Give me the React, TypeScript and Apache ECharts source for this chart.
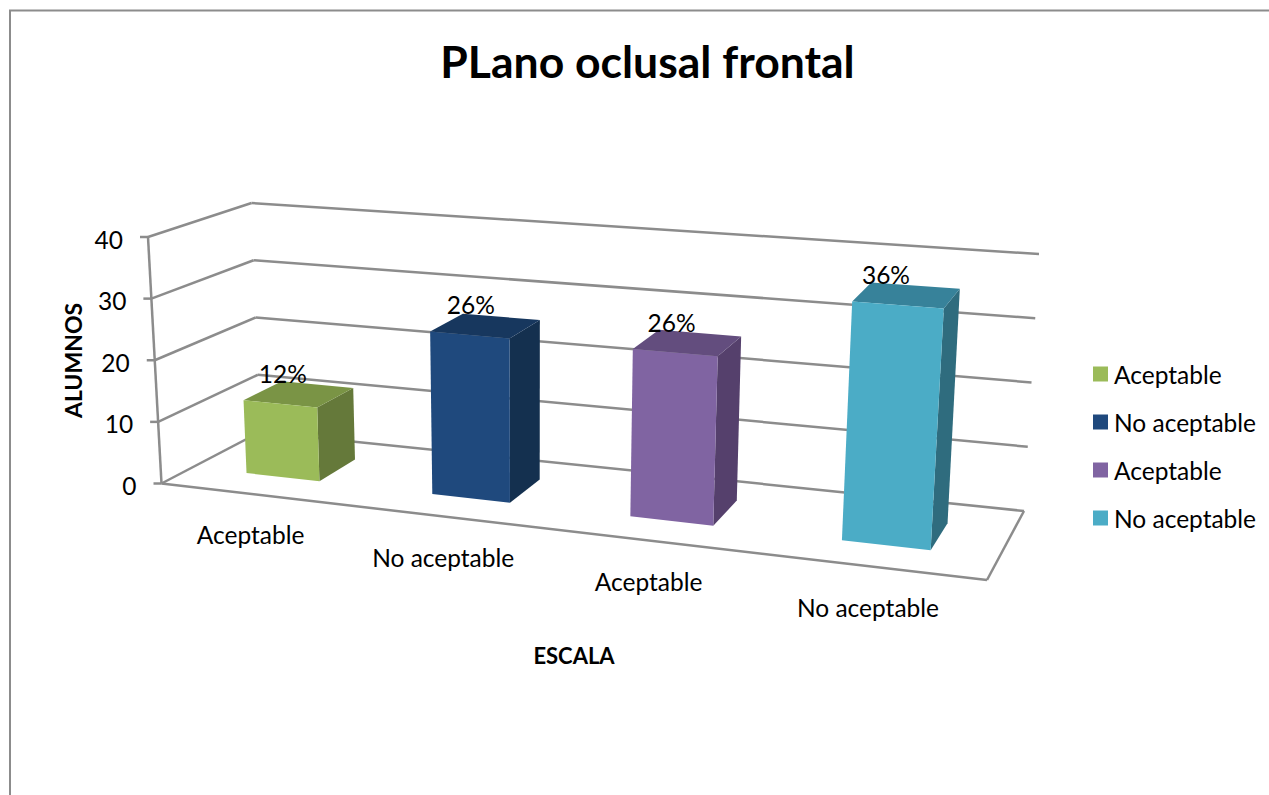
import React, { useEffect, useRef } from "react";
import * as echarts from "echarts";

const TITLE = "PLano oclusal frontal";
const X_NAME = "ESCALA";
const Y_NAME = "ALUMNOS";
const categories = ["Aceptable", "No aceptable", "Aceptable", "No aceptable"];
const seriesNames = ["Aceptable", "No aceptable", "Aceptable ", "No aceptable "];
const values = [12, 26, 26, 36];
const percentLabels = ["12%", "26%", "26%", "36%"];
const yTicks = [0, 10, 20, 30, 40];

const frontColors = ["#9BBB59", "#1F497D", "#8064A2", "#4BACC6"];
const topColors = ["#7A9445", "#17375E", "#634D7E", "#37829A"];
const sideColors = ["#65793A", "#14304F", "#55406C", "#2F6C7E"];

const FONT = "Lato";
const GRID_COLOR = "#8C8C8C";
const LABEL_SIZE = 24.5;

// Perspective box: corners of the plot cube on the page [front/back][bottom/top][left/right]
const BOX = {
  fbl: [161.5, 483.5], fbr: [987, 580], ftl: [148, 237], ftr: [1005, 302],
  bbl: [260, 432], bbr: [1024, 511], btl: [251.5, 203], btr: [1039, 254],
};
const WARP = 1.14;
const warp = (t: number) => t / (t + WARP * (1 - t));
const lerp = (a: number[], b: number[], k: number) => [a[0] + (b[0] - a[0]) * k, a[1] + (b[1] - a[1]) * k];

// t: horizontal fraction of the x axis, f: fraction of the y axis, z: depth (0 front, 1 back)
function project(t: number, f: number, z: number) {
  const s = warp(t);
  const fb = lerp(BOX.fbl, BOX.fbr, s);
  const ft = lerp(BOX.ftl, BOX.ftr, s);
  const bb = lerp(BOX.bbl, BOX.bbr, s);
  const bt = lerp(BOX.btl, BOX.btr, s);
  return lerp(lerp(fb, ft, f), lerp(bb, bt, f), z);
}

function scales(api: any) {
  const band = api.size([1, 0])[0];
  const left = api.coord([0, 0])[0] - band / 2;
  const y0 = api.coord([0, 0])[1];
  const yMax = api.coord([0, yTicks[yTicks.length - 1]])[1];
  return {
    tx: (cat: number, offset: number) => (api.coord([cat, 0])[0] - band / 2 + band * offset - left) / (band * categories.length),
    fy: (v: number) => (y0 - api.coord([0, v])[1]) / (y0 - yMax),
  };
}

const lineEl = (a: number[], b: number[], width = 2.5) => ({
  type: "line",
  shape: { x1: a[0], y1: a[1], x2: b[0], y2: b[1] },
  style: { stroke: GRID_COLOR, lineWidth: width, fill: "none" },
});

const textEl = (x: number, y: number, text: string, align: string, size = LABEL_SIZE) => ({
  type: "text",
  x,
  y,
  style: { text, fontFamily: FONT, fontSize: size, fill: "#000", align, verticalAlign: "middle" },
});

function renderFrame(_: any, api: any) {
  const sc = scales(api);
  const v = api.value(1);
  const f = sc.fy(v);
  const children: any[] = [];
  const fl = project(0, f, 0);
  const bl = project(0, f, 1);
  const br = project(1, f, 1);
  children.push(lineEl(fl, bl), lineEl(bl, br));
  children.push(lineEl([fl[0] - 8, fl[1]], fl));
  children.push(textEl(fl[0] - 25, fl[1] + 2, String(v), "right"));
  if (v === 0) {
    children.push(lineEl(project(0, 0, 0), project(1, 0, 0)));
    children.push(lineEl(project(1, 0, 0), project(1, 0, 1)));
    children.push(lineEl(project(0, 0, 0), project(0, 1, 0)));
  }
  return { type: "group", children };
}

function poly(points: number[][], fill: string) {
  return { type: "polygon", shape: { points }, style: { fill, stroke: "none" } };
}

const makeBar = (idx: number) => (_: any, api: any) => {
  const sc = scales(api);
  const cat = api.value(0);
  const f = sc.fy(api.value(1));
  const t0 = sc.tx(cat, 0.3);
  const t1 = sc.tx(cat, 0.7);
  const tm = sc.tx(cat, 0.5);
  const z0 = 0.32;
  const z1 = 0.72;
  const P = (t: number, ff: number, z: number) => project(t, ff, z);
  const labelBase = P(tm, 0, z0);
  const labelTop = P(tm, f, z0);
  const catAnchor = project(sc.tx(cat, 0.485), 0, 0);
  return {
    type: "group",
    children: [
      poly([P(t1, 0, z0), P(t1, 0, z1), P(t1, f, z1), P(t1, f, z0)], sideColors[idx]),
      poly([P(t0, f, z0), P(t1, f, z0), P(t1, f, z1), P(t0, f, z1)], topColors[idx]),
      poly([P(t0, 0, z0), P(t1, 0, z0), P(t1, f, z0), P(t0, f, z0)], frontColors[idx]),
      textEl(labelBase[0], labelTop[1] - 30, percentLabels[idx], "center"),
      textEl(catAnchor[0], catAnchor[1] + 41, categories[idx], "center"),
    ],
  };
};

export default function App() {
  const ref = useRef<HTMLDivElement>(null);
  useEffect(() => {
    document.body.style.margin = "0";
    const chart = echarts.init(ref.current!, undefined, { renderer: "svg" });
    chart.setOption({
      animation: false,
      backgroundColor: "#fff",
      title: {
        text: TITLE,
        left: 642.5,
        top: 33,
        textAlign: "center",
        textStyle: { fontFamily: FONT, fontSize: 44.5, fontWeight: "bold", color: "#000" },
      },
      graphic: [
        {
          type: "polyline",
          shape: { points: [[10, 795], [10, 10.5], [1269, 10.5]] },
          style: { stroke: GRID_COLOR, lineWidth: 2, fill: "none" },
        },
      ],
      legend: {
        orient: "vertical",
        left: 1088,
        top: 356.5,
        itemWidth: 15,
        itemHeight: 15,
        itemGap: 23,
        icon: "rect",
        selectedMode: false,
        data: seriesNames,
        formatter: (n: string) => n.trim(),
        textStyle: { fontFamily: FONT, fontSize: LABEL_SIZE, color: "#000", padding: [0, 0, 0, 1] },
      },
      grid: { left: 161, top: 237, width: 826, height: 247, containLabel: false },
      xAxis: {
        type: "category",
        data: categories,
        name: X_NAME,
        nameLocation: "middle",
        nameGap: 160,
        nameTextStyle: { fontFamily: FONT, fontSize: 22, fontWeight: "bold", color: "#000" },
        axisLine: { show: false },
        axisTick: { show: false },
        axisLabel: { show: false },
      },
      yAxis: {
        type: "value",
        min: 0,
        max: 40,
        interval: 10,
        name: Y_NAME,
        nameLocation: "middle",
        nameGap: 77,
        nameRotate: 90,
        nameTextStyle: { fontFamily: FONT, fontSize: 23, fontWeight: "bold", color: "#000" },
        axisLine: { show: false },
        axisTick: { show: false },
        axisLabel: { show: false },
        splitLine: { show: false },
      },
      series: [
        {
          type: "custom",
          name: "frame",
          silent: true,
          clip: false,
          encode: { x: 0, y: 1 },
          data: yTicks.map((v) => [0, v]),
          renderItem: renderFrame,
        },
        ...values.map((v, i) => ({
          type: "custom",
          name: seriesNames[i],
          clip: false,
          encode: { x: 0, y: 1 },
          itemStyle: { color: frontColors[i] },
          data: [[i, v]],
          renderItem: makeBar(i),
        })),
      ],
    });
    return () => chart.dispose();
  }, []);
  return <div ref={ref} style={{ width: 1269, height: 795 }} />;
}
